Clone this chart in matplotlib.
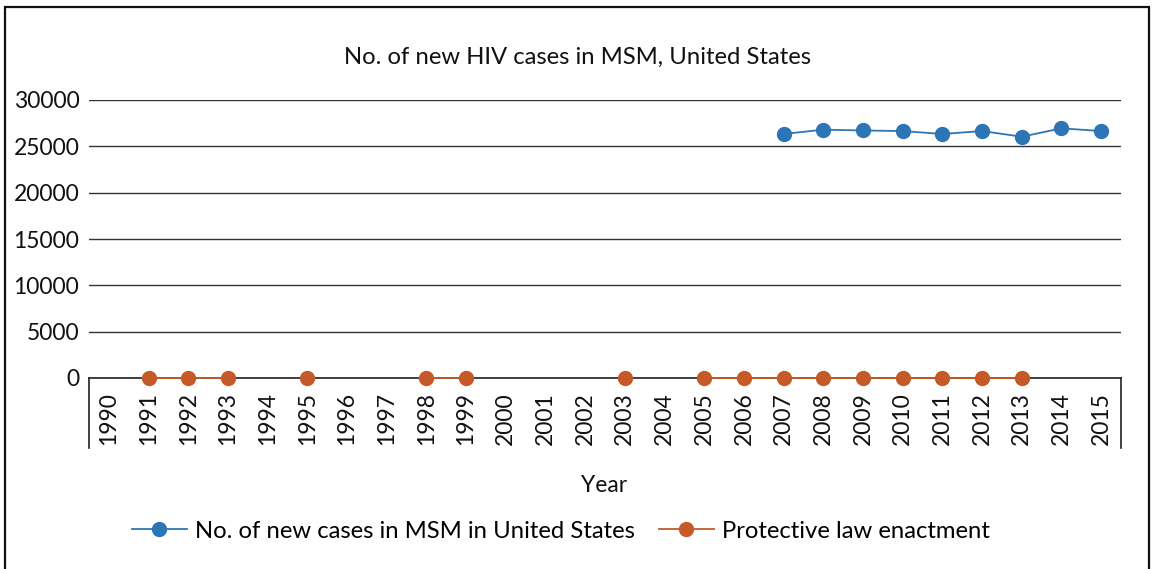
import matplotlib
matplotlib.use("Agg")
import matplotlib.pyplot as plt
import numpy as np
from matplotlib.lines import Line2D

plt.rcParams['font.family'] = ['Lato', 'DejaVu Sans']

years = [str(y) for y in range(1990, 2016)]
cases_years = [2007, 2008, 2009, 2010, 2011, 2012, 2013, 2014, 2015]
cases_values = [26330, 26800, 26710, 26650, 26330, 26650, 26040, 26940, 26650]
law_years = [1991, 1992, 1993, 1995, 1998, 1999, 2003, 2005, 2006, 2007, 2008,
             2009, 2010, 2011, 2012, 2013]
law_values = [0] * len(law_years)

blue = '#2E75B6'
orange = '#C55A28'
FS = 16.5

fig = plt.figure(figsize=(11.54, 5.69), dpi=100)
ax = fig.add_axes([89/1154, 1-378/569, (1121-89)/1154, (378-100)/569])

idx = {int(y): i for i, y in enumerate(years)}
cases = np.full(len(years), np.nan)
for y, v in zip(cases_years, cases_values):
    cases[idx[y]] = v
law = np.full(len(years), np.nan)
for y, v in zip(law_years, law_values):
    law[idx[y]] = v

x = np.arange(len(years))
ax.plot(x, cases, color=blue, lw=1.3, marker='o', ms=10, clip_on=False, zorder=4)
ax.plot(x, law, color=orange, lw=1.3, marker='o', ms=10, clip_on=False, zorder=4)

ax.set_xlim(-0.5, len(years) - 0.5)
ax.set_ylim(0, 30000)
ax.set_yticks(np.arange(0, 30001, 5000))
ax.grid(axis='y', color='#333333', lw=1.0)
ax.set_axisbelow(True)
for s in ['top', 'right', 'left']:
    ax.spines[s].set_visible(False)
ax.spines['bottom'].set_color('#222222')
ax.spines['bottom'].set_linewidth(1.2)
ax.set_xticks(x)
ax.set_xticklabels(years, rotation=90, fontsize=FS, color='#111111')
ax.tick_params(axis='x', length=0, pad=10)
ax.tick_params(axis='y', length=0, labelsize=FS, pad=7, labelcolor='#111111')
# vertical end lines of the category axis
for xa in (0, 1):
    ax.plot([xa, xa], [0, -70/278], transform=ax.transAxes, color='#222222',
            lw=1.2, clip_on=False)

fig.text(604/1154, 1-485/569, 'Year', ha='center', va='center', fontsize=FS,
         color='#111111')
fig.text(578/1154, 1-57/569, 'No. of new HIV cases in MSM, United States',
         ha='center', va='center', fontsize=FS + 0.7, color='#111111')

handles = [Line2D([0], [0], color=blue, lw=1.3, marker='o', ms=10),
           Line2D([0], [0], color=orange, lw=1.3, marker='o', ms=10)]
fig.legend(handles, ['No. of new cases in MSM in United States', 'Protective law enactment'],
           loc='center', bbox_to_anchor=(561/1154, 1-531/569), ncol=2, frameon=False,
           fontsize=FS + 0.7, handlelength=2.3, columnspacing=1.0, handletextpad=0.35)

# outer frame
fig.add_artist(plt.Rectangle((5/1154, -0.1), (1149-5)/1154, 1.1 - 7/569,
                             transform=fig.transFigure, fill=False, ec='#111111', lw=1.6))

fig.savefig('out.png', dpi=100)
